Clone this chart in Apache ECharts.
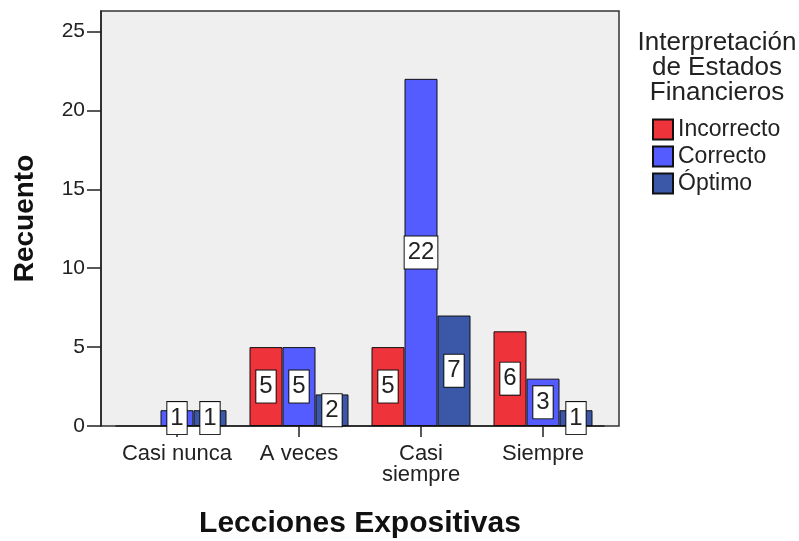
<!DOCTYPE html>
<html>
<head>
<meta charset="utf-8">
<script src="https://cdn.jsdelivr.net/npm/echarts@6/dist/echarts.min.js"></script>
<style>
  html, body { margin: 0; padding: 0; background: #fff; }
  #chart { width: 799px; height: 541px; }
</style>
</head>
<body>
<div id="chart"></div>
<script>
// data
var categories = ['Casi nunca', 'A veces', 'Casi\nsiempre', 'Siempre']
var incorrecto = ['-', 5, 5, 6]
var correcto = [1, 5, 22, 3]
var optimo = [1, 2, 7, 1]
var yTicks = [0, 5, 10, 15, 20, 25]

var font = 'Liberation Sans, Arial, sans-serif'
var yMax = 26.3

var chart = echarts.init(document.getElementById('chart'))

var labelOption = {
  show: true,
  position: 'inside',
  formatter: '{c}',
  fontFamily: font,
  fontSize: 24,
  lineHeight: 24,
  color: '#222',
  backgroundColor: '#fff',
  borderColor: '#111',
  borderWidth: 1,
  padding: [4, 3, 4, 3]
}

function barSeries(name, color, data) {
  return {
    name: name,
    type: 'bar',
    xAxisIndex: 1,
    yAxisIndex: 1,
    barWidth: 33,
    barGap: '0%',
    itemStyle: { color: color, borderColor: '#111', borderWidth: 1 },
    label: labelOption,
    data: data
  }
}

chart.setOption({
  animation: false,
  textStyle: { fontFamily: font },
  title: {
    text: 'Interpretación\nde Estados\nFinancieros',
    left: 712,
    top: 25,
    textAlign: 'center',
    textStyle: {
      fontFamily: font,
      fontWeight: 'normal',
      fontSize: 26,
      lineHeight: 25,
      color: '#222',
      align: 'center'
    }
  },
  legend: {
    orient: 'vertical',
    left: 652,
    top: 118,
    padding: 0,
    itemWidth: 20,
    itemHeight: 20,
    itemGap: 4,
    icon: 'rect',
    textStyle: { fontFamily: font, fontSize: 23, lineHeight: 20, color: '#222' },
    data: ['Incorrecto', 'Correcto', 'Óptimo']
  },
  grid: [
    // plot background / frame
    {
      left: 101, right: 180, top: 11, bottom: 115,
      outerBoundsMode: 'none',
      containLabel: false,
      show: true,
      backgroundColor: '#efefef',
      borderColor: '#333',
      borderWidth: 1.5
    },
    // bars
    {
      left: 116, right: 195, top: 11, bottom: 115,
      outerBoundsMode: 'none',
      containLabel: false
    }
  ],
  xAxis: [{
    gridIndex: 0,
    type: 'value',
    min: 0,
    max: 1,
    show: false
  }, {
    gridIndex: 1,
    type: 'category',
    data: categories,
    axisLine: { show: true, lineStyle: { color: '#222', width: 1.5 } },
    axisTick: { show: true, alignWithLabel: true, length: 11, lineStyle: { color: '#222', width: 1.5 } },
    axisLabel: { interval: 0, fontFamily: font, fontSize: 22, color: '#222', lineHeight: 21, margin: 17 },
    name: 'Lecciones Expositivas',
    nameLocation: 'middle',
    nameGap: 83,
    nameTextStyle: { fontFamily: font, fontSize: 30, fontWeight: 'bold', color: '#111' }
  }],
  yAxis: [{
    gridIndex: 0,
    type: 'value',
    min: 0,
    max: yMax,
    splitLine: { show: false },
    axisLine: { show: true, lineStyle: { color: '#222', width: 1.5 } },
    axisTick: { show: true, length: 14, customValues: yTicks, lineStyle: { color: '#222', width: 1.5 } },
    axisLabel: { customValues: yTicks, fontFamily: font, fontSize: 21, color: '#222', margin: 16 },
    name: 'Recuento',
    nameLocation: 'middle',
    nameGap: 62,
    nameTextStyle: { fontFamily: font, fontSize: 28, fontWeight: 'bold', color: '#111' }
  }, {
    gridIndex: 1,
    type: 'value',
    min: 0,
    max: yMax,
    show: false
  }],
  series: [
    barSeries('Incorrecto', '#ee333b', incorrecto),
    barSeries('Correcto', '#555cff', correcto),
    barSeries('Óptimo', '#3b58a8', optimo)
  ]
})
</script>
</body>
</html>
